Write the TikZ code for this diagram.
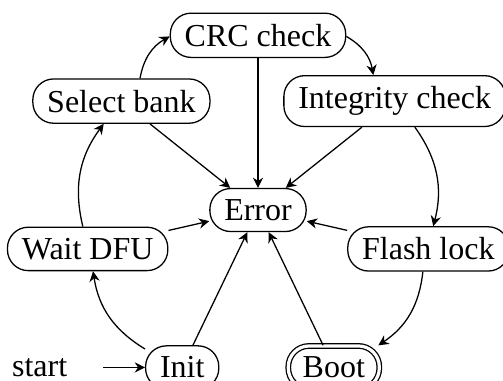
\documentclass[tikz,border=0pt]{standalone}
\usepackage{fontspec}
\setmainfont{Liberation Serif}
\usetikzlibrary{arrows, arrows.meta}
\usetikzlibrary{positioning}

\begin{document}
\begin{tikzpicture}[
  phase/.style={draw, rectangle, rounded corners=6.5pt, inner xsep=4.5pt, inner ysep=3.4pt},
  final/.style={phase, double, double distance=1pt},
  arrow/.style={-{Stealth[length=3.2pt, width=3.2pt]}}
]
\useasboundingbox (-2.835,-1.868) rectangle (2.692,2.308);

% states round the error state
\node[phase] (error) at (0,0) {Error};
\node[phase] (crc)   at (90:1.92cm) {CRC check};
\node[phase] (integ) at (38.57:1.92cm) {Integrity check};
\node[phase] (flash) at (-12.86:1.92cm) {Flash lock};
\node[final] (boot)  at (-64.29:1.92cm) {Boot};
\node[phase] (init)  at (-115.71:1.92cm) {Init};
\node[phase] (wait)  at (192.86:1.92cm) {Wait DFU};
\node[phase] (bank)  at (141.43:1.92cm) {Select bank};

\coordinate[left=0.46cm of init] (startin);
\node[left=0.27cm of startin] (start) {start};
\draw[arrow] (startin) -- (init);

% normal path
\draw[arrow] (init)  to[bend left=25] (wait);
\draw[arrow] (wait)  to[bend left=25] (bank);
\draw[arrow] (bank)  to[bend left=25] (crc);
\draw[arrow] (crc)   to[bend left=25] (integ);
\draw[arrow] (integ) to[bend left=25] (flash);
\draw[arrow] (flash) to[bend left=25] (boot);

% failures
\foreach \s in {init, wait, bank, crc, integ, flash, boot}
  \draw[arrow] (\s) -- (error);
\end{tikzpicture}
\end{document}
